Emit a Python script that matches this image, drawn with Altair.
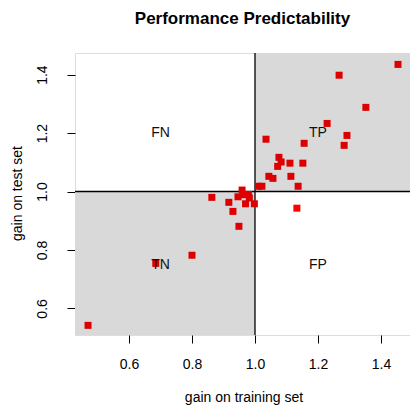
import altair as alt
import pandas as pd

# ---- data ----
train_gain = [1.454, 1.267, 1.352, 1.229, 1.292, 1.283, 1.035, 1.156, 1.076, 1.083,
              1.072, 1.111, 1.152, 1.044, 1.057, 1.114, 1.011, 1.022, 1.137, 0.863,
              0.917, 0.959, 0.946, 0.964, 0.979, 0.982, 0.970, 0.998, 0.930, 0.949,
              1.133, 0.800, 0.685, 0.470]
test_gain = [1.435, 1.398, 1.288, 1.233, 1.192, 1.158, 1.179, 1.165, 1.117, 1.101,
             1.086, 1.097, 1.097, 1.052, 1.045, 1.052, 1.018, 1.018, 1.018, 0.980,
             0.963, 1.005, 0.982, 0.989, 0.990, 0.978, 0.958, 0.958, 0.932, 0.881,
             0.943, 0.782, 0.754, 0.542]

quad_labels = ["FN", "TP", "TN", "FP"]
label_x = [0.7, 1.2, 0.7, 1.2]
label_y = [1.2, 1.2, 0.75, 0.75]

tick_values = [0.6, 0.8, 1.0, 1.2, 1.4]
threshold = 1.0

X_MIN, X_MAX = 0.4286, 1.4921
Y_MIN, Y_MAX = 0.509, 1.474

FONT = "Liberation Sans"

kinds = ["FP" if (x > threshold and y < threshold) else "other"
         for x, y in zip(train_gain, test_gain)]
points = pd.DataFrame({"x": train_gain, "y": test_gain, "kind": kinds})
labels = pd.DataFrame({"x": label_x, "y": label_y, "t": quad_labels})
rects = pd.DataFrame({"x": [threshold, X_MIN], "x2": [X_MAX, threshold],
                      "y": [threshold, Y_MIN], "y2": [Y_MAX, threshold]})
thr = pd.DataFrame({"v": [threshold]})

xs = alt.Scale(domain=[X_MIN, X_MAX], nice=False, zero=False)
ys = alt.Scale(domain=[Y_MIN, Y_MAX], nice=False, zero=False)

x_axis = alt.Axis(values=tick_values, format=".1f", grid=False, domain=False,
                  tickSize=8, tickColor="black", tickWidth=1,
                  labelFont=FONT, labelFontSize=14, labelColor="black",
                  labelPadding=14, title="gain on training set",
                  titleFont=FONT, titleFontSize=14, titleFontWeight="normal",
                  titleColor="black", titleBaseline="alphabetic",
                  titleX=168.5, titleY=66)
y_axis = alt.Axis(values=tick_values, format=".1f", grid=False, domain=False,
                  tickSize=8, tickColor="black", tickWidth=1,
                  labelFont=FONT, labelFontSize=14, labelColor="black",
                  labelAngle=270, labelAlign="center", labelBaseline="alphabetic",
                  labelPadding=21, title="gain on test set",
                  titleFont=FONT, titleFontSize=14, titleFontWeight="normal",
                  titleColor="black", titleAngle=270, titleAlign="center",
                  titleBaseline="alphabetic", titleX=-53.5, titleY=140)

X = lambda f: alt.X(f, scale=xs, axis=x_axis)
Y = lambda f: alt.Y(f, scale=ys, axis=y_axis)

shade = alt.Chart(rects).mark_rect(color="#d9d9d9").encode(
    x=X("x:Q"), x2="x2:Q", y=Y("y:Q"), y2="y2:Q")

vline = alt.Chart(thr).mark_rule(color="black", strokeWidth=1.3).encode(x=X("v:Q"))
hline = alt.Chart(thr).mark_rule(color="black", strokeWidth=1.3).encode(y=Y("v:Q"))

pts = alt.Chart(points).mark_square(size=49, opacity=1).encode(
    x=X("x:Q"), y=Y("y:Q"),
    color=alt.Color("kind:N", scale=alt.Scale(domain=["FP", "other"],
                                              range=["#ff0000", "#dd0000"]),
                    legend=None))

txt = alt.Chart(labels).mark_text(font=FONT, fontSize=14, color="#111111",
                                  align="center", baseline="middle").encode(
    x=X("x:Q"), y=Y("y:Q"), text="t:N")

chart = alt.layer(shade, vline, hline, pts, txt).properties(
    width=335, height=282,
    title=alt.TitleParams("Performance Predictability", font=FONT, fontSize=17,
                          fontWeight="bold", color="black", anchor="middle",
                          baseline="alphabetic", offset=11),
    autosize=alt.AutoSizeParams(type="none"),
    padding={"left": 75, "top": 53, "right": 0, "bottom": 71},
).configure_view(stroke="black", strokeWidth=1).configure(background="white")

chart.save("out.html", embed_options={"renderer": "svg", "actions": False})
